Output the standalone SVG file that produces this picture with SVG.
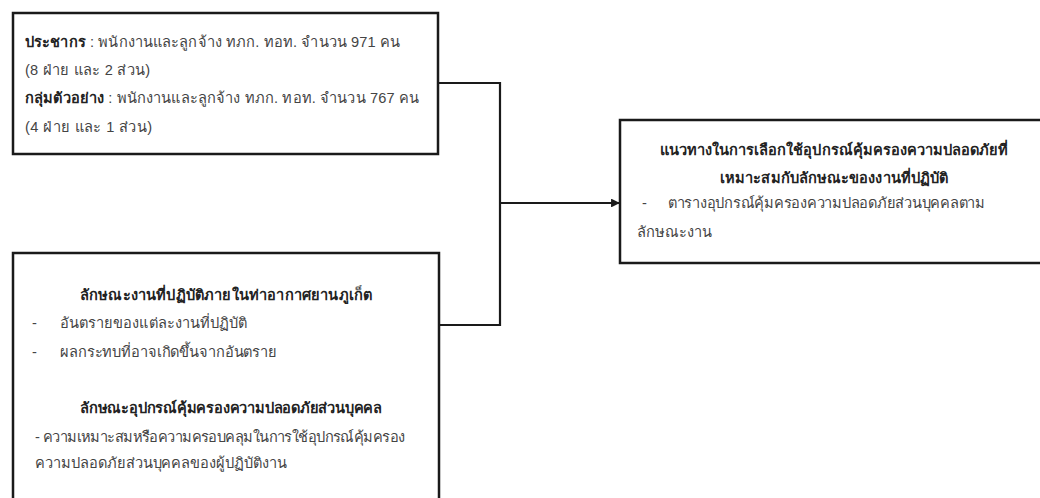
<svg xmlns="http://www.w3.org/2000/svg" width="1040" height="498" viewBox="0 0 1040 498">
<defs>
<style>
.box{fill:#fff;stroke:#1a1a1a;stroke-width:2.5}
.t{font-family:"Liberation Sans","Noto Sans","DejaVu Sans",sans-serif;font-size:14.6px;fill:#444}
.b{font-weight:bold;fill:#222}
.c{text-anchor:middle}
.ln{fill:none;stroke:#1a1a1a;stroke-width:2.2}
</style>
<marker id="ah" viewBox="0 0 10 10" refX="9" refY="5" markerWidth="4" markerHeight="4" orient="auto">
<path d="M0,0 L10,5 L0,10 z" fill="#1a1a1a"/>
</marker>
</defs>
<rect width="1040" height="498" fill="#fff"/>
<g id="connectors">
<path class="ln" d="M438,83 H500 V325 H438"/>
<path class="ln" d="M500,203 H619" marker-end="url(#ah)"/>
</g>
<g id="node-population">
<rect class="box" x="13" y="13" width="425" height="141"/>
<text class="t" x="25" y="47" textLength="375"><tspan class="b">ประชากร</tspan> : พนักงานและลูกจ้าง ทภก. ทอท. จำนวน 971 คน</text>
<text class="t" x="25" y="75" textLength="125">(8 ฝ่าย และ 2 ส่วน)</text>
<text class="t" x="25" y="103" textLength="394"><tspan class="b">กลุ่มตัวอย่าง</tspan> : พนักงานและลูกจ้าง ทภก. ทอท. จำนวน 767 คน</text>
<text class="t" x="25" y="132" textLength="127">(4 ฝ่าย และ 1 ส่วน)</text>
</g>
<g id="node-characteristics">
<rect class="box" x="13" y="253" width="426" height="260"/>
<text class="t b c" x="226" y="300" textLength="292">ลักษณะงานที่ปฏิบัติภายในท่าอากาศยานภูเก็ต</text>
<text class="t" x="32" y="328">-</text>
<text class="t" x="60" y="328" textLength="187">อันตรายของแต่ละงานที่ปฏิบัติ</text>
<text class="t" x="32" y="357">-</text>
<text class="t" x="60" y="357" textLength="217">ผลกระทบที่อาจเกิดขึ้นจากอันตราย</text>
<text class="t b c" x="231" y="413" textLength="302">ลักษณะอุปกรณ์คุ้มครองความปลอดภัยส่วนบุคคล</text>
<text class="t" x="35" y="442" textLength="370">- ความเหมาะสมหรือความครอบคลุมในการใช้อุปกรณ์คุ้มครอง</text>
<text class="t" x="35" y="468" textLength="252">ความปลอดภัยส่วนบุคคลของผู้ปฏิบัติงาน</text>
</g>
<g id="node-guideline">
<rect class="box" x="620" y="120" width="440" height="143"/>
<text class="t b c" x="834" y="155" textLength="348">แนวทางในการเลือกใช้อุปกรณ์คุ้มครองความปลอดภัยที่</text>
<text class="t b c" x="834" y="183" textLength="228">เหมาะสมกับลักษณะของงานที่ปฏิบัติ</text>
<text class="t" x="642" y="208">-</text>
<text class="t" x="668" y="208" textLength="317">ตารางอุปกรณ์คุ้มครองความปลอดภัยส่วนบุคคลตาม</text>
<text class="t" x="637" y="237" textLength="75">ลักษณะงาน</text>
</g>
</svg>
